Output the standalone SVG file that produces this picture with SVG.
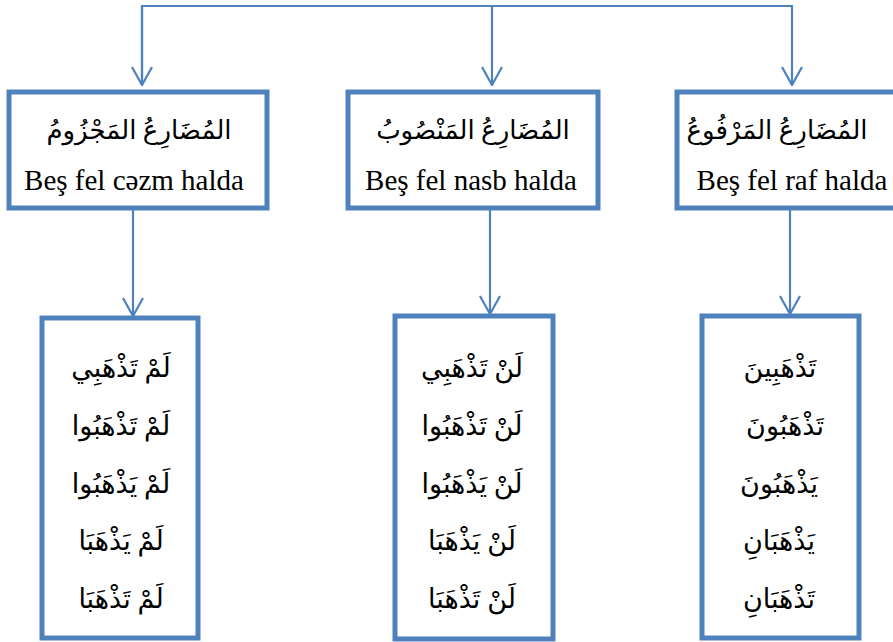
<svg xmlns="http://www.w3.org/2000/svg" width="893" height="642" viewBox="0 0 893 642">
<style>
.box{fill:#fff;stroke:#4F81BD;stroke-width:5}
.ln{fill:none;stroke:#4F81BD;stroke-width:2.2}
.ar{font-family:"Liberation Serif","DejaVu Sans",serif;font-size:27px;fill:#000;text-anchor:middle}
.hd{font-size:26px}
.la{font-family:"Liberation Serif",serif;font-size:29px;fill:#000;text-anchor:middle}
</style>
<defs>
<marker id="ah" viewBox="0 0 20 22" refX="19" refY="11" markerWidth="20" markerHeight="22" markerUnits="userSpaceOnUse" orient="auto">
<path d="M1,1 L19,11 L1,21" fill="none" stroke="#4F81BD" stroke-width="2.2"/>
</marker>
</defs>
<g id="connectors">
<polyline class="ln" points="142,85 142,6 792,6 792,85" marker-end="url(#ah)"/>
<line class="ln" x1="142" y1="6" x2="142" y2="85" marker-end="url(#ah)"/>
<line class="ln" x1="492" y1="6" x2="492" y2="85" marker-end="url(#ah)"/>
<line class="ln" x1="133" y1="208" x2="133" y2="316" marker-end="url(#ah)"/>
<line class="ln" x1="490" y1="208" x2="490" y2="314" marker-end="url(#ah)"/>
<line class="ln" x1="790" y1="208" x2="790" y2="314" marker-end="url(#ah)"/>
</g>
<g id="n1">
<rect class="box" x="9" y="92" width="258" height="116"/>
<text class="ar hd" x="139" y="139" direction="rtl">المُضَارِعُ المَجْزُومُ</text>
<text class="la" x="134" y="190">Beş fel cəzm halda</text>
</g>
<g id="n2">
<rect class="box" x="348" y="92" width="250" height="116"/>
<text class="ar hd" x="473" y="139" direction="rtl">المُضَارِعُ المَنْصُوبُ</text>
<text class="la" x="471" y="190">Beş fel nasb halda</text>
</g>
<g id="n3">
<rect class="box" x="677" y="92" width="240" height="116"/>
<text class="ar hd" x="777" y="139" direction="rtl">المُضَارِعُ المَرْفُوعُ</text>
<text class="la" x="792" y="190">Beş fel raf halda</text>
</g>
<g id="n4">
<rect class="box" x="42" y="318" width="156" height="320"/>
<text class="ar" x="121" y="377" direction="rtl">لَمْ تَذْهَبِي</text>
<text class="ar" x="121" y="435" direction="rtl">لَمْ تَذْهَبُوا</text>
<text class="ar" x="121" y="493" direction="rtl">لَمْ يَذْهَبُوا</text>
<text class="ar" x="121" y="550" direction="rtl">لَمْ يَذْهَبَا</text>
<text class="ar" x="121" y="608" direction="rtl">لَمْ تَذْهَبَا</text>
</g>
<g id="n5">
<rect class="box" x="395" y="316" width="158" height="323"/>
<text class="ar" x="472" y="377" direction="rtl">لَنْ تَذْهَبِي</text>
<text class="ar" x="472" y="435" direction="rtl">لَنْ تَذْهَبُوا</text>
<text class="ar" x="472" y="493" direction="rtl">لَنْ يَذْهَبُوا</text>
<text class="ar" x="472" y="550" direction="rtl">لَنْ يَذْهَبَا</text>
<text class="ar" x="472" y="608" direction="rtl">لَنْ تَذْهَبَا</text>
</g>
<g id="n6">
<rect class="box" x="702" y="316" width="157" height="322"/>
<text class="ar" x="780" y="377" direction="rtl">تَذْهَبِينَ</text>
<text class="ar" x="785" y="435" direction="rtl">تَذْهَبُونَ</text>
<text class="ar" x="779" y="493" direction="rtl">يَذْهَبُونَ</text>
<text class="ar" x="779" y="550" direction="rtl">يَذْهَبَانِ</text>
<text class="ar" x="779" y="608" direction="rtl">تَذْهَبَانِ</text>
</g>
</svg>
